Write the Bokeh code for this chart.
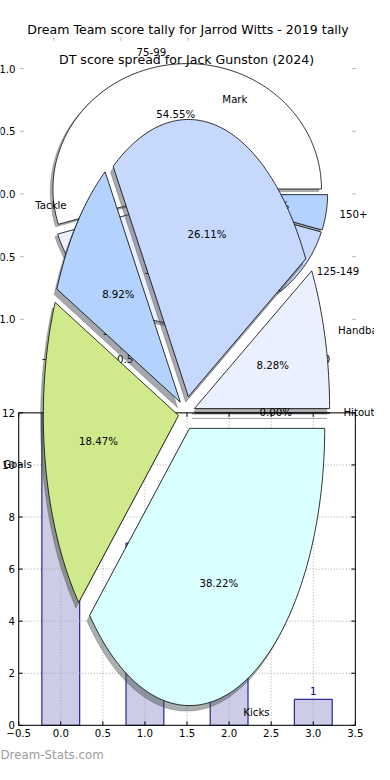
import numpy as np
from bokeh.plotting import figure
from bokeh.models import Range1d
from bokeh.embed import file_html
from bokeh.resources import INLINE
from bokeh.core.properties import value

# ---------------- data ----------------
tally_title = "Dream Team score tally for Jarrod Witts - 2019 tally"
tally_x = [0, 1, 2, 3]
tally_values = [12, 7, 3, 1]
tally_xlim = [-0.5, 3.5]
tally_ylim = [0, 12]
tally_xticks = [-0.5, 0.0, 0.5, 1.0, 1.5, 2.0, 2.5, 3.0, 3.5]
tally_xtick_labels = ["\u22120.5", "0.0", "0.5", "1.0", "1.5", "2.0", "2.5", "3.0", "3.5"]
tally_yticks = [0, 2, 4, 6, 8, 10, 12]
tally_ytick_labels = ["0", "2", "4", "6", "8", "10", "12"]

spread_title = "DT score spread for Jack Gunston (2024)"
spread_labels = ["75-99", "100-124", "125-149", "150+"]
spread_games = [12, 7, 2, 1]
spread_colors = ["#ffffff", "#ebf0fe", "#c6d8fd", "#b3d3fe"]
spread_lim = [-1.25, 1.25]
spread_yticks = [1.0, 0.5, 0.0, -0.5, -1.0]
spread_ytick_labels = ["1.0", "0.5", "0.0", "\u22120.5", "\u22121.0"]
spread_xticks = [-1.0, -0.5, 0.0, 0.5, 1.0]
spread_xtick_labels = ["\u22121.0", "\u22120.5", "0.0", "0.5", "1.0"]
spread_top_xticks = [-1.0, -0.5, 0.0]

stat_labels = ["Handball", "Mark", "Tackle", "Goals", "Kicks", "Hitout"]
stat_percent = [8.28, 26.11, 8.92, 18.47, 38.22, 0.00]
stat_colors = ["#ebf0fe", "#c6d8fd", "#b3d3fe", "#d0ea8b", "#d9fffe", "#ffffff"]

watermark = "Dream-Stats.com"

# ---------------- layout ----------------
REF_W, REF_H = 390, 780
W, H = 374, 764
FS = 1.02

# (data value a, ref pixel of a, data value b, ref pixel of b)
TALLY_X = (-0.5, 19.0, 3.5, 370.0)
TALLY_Y = (0.0, 740.0, 12.0, 421.0)
SPREAD_X = (0.0, 195.5, 1.0, 335.5)
SPREAD_Y = (0.0, 197.5, 1.0, 69.5)
STAT_X = (0.0, 194.0, 1.0, 335.0)
STAT_Y = (0.0, 421.0, 1.0, 138.0)


def per_px(anchor):
    a, pa, b, pb = anchor
    return (b - a) / (pb - pa)


def at_px(anchor, px):
    a, pa, b, pb = anchor
    return a + (px - pa) * per_px(anchor)


def px_len(anchor, n):
    return n * abs(per_px(anchor))


def make_xr(anchor):
    return Range1d(start=at_px(anchor, 0), end=at_px(anchor, REF_W))


def make_yr(anchor):
    return Range1d(start=at_px(anchor, REF_H), end=at_px(anchor, 0))


p = figure(width=W, height=H, x_range=make_xr(TALLY_X), y_range=make_yr(TALLY_Y),
           x_axis_location=None, y_axis_location=None, toolbar_location=None,
           output_backend="svg", min_border=0)
p.grid.visible = False
p.outline_line_color = None
p.background_fill_color = "white"
p.border_fill_color = "white"
p.extra_x_ranges = {"sx": make_xr(SPREAD_X), "kx": make_xr(STAT_X)}
p.extra_y_ranges = {"sy": make_yr(SPREAD_Y), "ky": make_yr(STAT_Y)}

FONT = value("DejaVu Sans")


def names(xr, yr):
    kw = {}
    if xr:
        kw["x_range_name"] = xr
    if yr:
        kw["y_range_name"] = yr
    return kw


def txt(x, y, t, xr=None, yr=None, align="center", size=10.0, color="black"):
    p.text(x=list(x), y=list(y), text=list(t), text_align=align, text_baseline="middle",
           text_font=FONT, text_font_size=f"{size * FS:.2f}px", text_color=color,
           **names(xr, yr))


def ticks(x, y, angle, xr=None, yr=None, color="black", length=4):
    p.ray(x=list(x), y=list(y), length=length, angle=angle, length_units="screen",
          line_color=color, line_width=1, **names(xr, yr))


def shade(c):
    c = c.lstrip("#")
    r, g, b = (int(c[i:i + 2], 16) for i in (0, 2, 4))
    return "#%02x%02x%02x" % (int(r * 0.3), int(g * 0.3), int(b * 0.3))


def pie(values, labels, colors, explode, xr, yr):
    vals = np.asarray(values, dtype=float)
    fracs = vals / vals.sum()
    wx, wy, lab_pos, pct_pos = [], [], [], []
    t1 = 0.0
    for f in fracs:
        t2 = t1 + f
        thm = np.pi * (t1 + t2)
        cx, cy = explode * np.cos(thm), explode * np.sin(thm)
        th = np.linspace(2 * np.pi * t1, 2 * np.pi * t2, max(3, int(f * 400) + 3))
        wx.append(np.concatenate([[cx], cx + np.cos(th), [cx]]))
        wy.append(np.concatenate([[cy], cy + np.sin(th), [cy]]))
        lab_pos.append((cx + 1.1 * np.cos(thm), cy + 1.1 * np.sin(thm)))
        pct_pos.append((cx + 0.6 * np.cos(thm), cy + 0.6 * np.sin(thm)))
        t1 = t2
    # shadows
    sh = [shade(c) for c in colors]
    p.patches(xs=[list(x - 0.02) for x in wx], ys=[list(y - 0.02) for y in wy],
              fill_color=sh, fill_alpha=0.45, line_color=sh, line_alpha=0.3,
              line_width=1, **names(xr, yr))
    p.patches(xs=[list(x) for x in wx], ys=[list(y) for y in wy],
              fill_color=list(colors), line_color="black", line_width=0.8,
              **names(xr, yr))
    for side in ("left", "right"):
        sel = [i for i, (x, y) in enumerate(lab_pos) if (x > 0) == (side == "left")]
        if sel:
            txt([lab_pos[i][0] for i in sel], [lab_pos[i][1] for i in sel],
                [labels[i] for i in sel], xr, yr, align=side)
    txt([q[0] for q in pct_pos], [q[1] for q in pct_pos],
        ["%1.2f%%" % (100 * f) for f in fracs], xr, yr)


# ---- score-spread axes (ticks and labels) ----
grey = "#b4b4b4"
ticks([spread_lim[0]] * len(spread_yticks), spread_yticks, 0.0, "sx", "sy", grey, 3.5)
ticks([spread_lim[1]] * len(spread_yticks), spread_yticks, np.pi, "sx", "sy", grey, 3.5)
ticks(spread_top_xticks, [spread_lim[1]] * len(spread_top_xticks), -np.pi / 2, "sx", "sy", grey, 3.5)
ticks(spread_xticks, [spread_lim[0]] * len(spread_xticks), np.pi / 2, "sx", "sy", grey, 3.5)
txt([spread_lim[0] - px_len(SPREAD_X, 5)] * len(spread_yticks), spread_yticks,
    spread_ytick_labels, "sx", "sy", align="right")
txt(spread_xticks, [spread_lim[0] - px_len(SPREAD_Y, 8)] * len(spread_xticks),
    spread_xtick_labels, "sx", "sy")

# ---- score-spread pie ----
pie(spread_games, spread_labels, spread_colors, 0.04, "sx", "sy")

# ---- tally bar chart ----
p.vbar(x=tally_x, top=tally_values, bottom=0, width=0.45, fill_color="navy",
       fill_alpha=0.2, line_color="navy", line_width=1)
p.segment(x0=tally_xticks, x1=tally_xticks, y0=[tally_ylim[0]] * len(tally_xticks),
          y1=[tally_ylim[1]] * len(tally_xticks), line_color="#a8a8a8",
          line_dash="1 2", line_width=1)
p.segment(x0=[tally_xlim[0]] * len(tally_yticks), x1=[tally_xlim[1]] * len(tally_yticks),
          y0=tally_yticks, y1=tally_yticks, line_color="#a8a8a8",
          line_dash="1 2", line_width=1)
p.quad(left=[tally_xlim[0]], right=[tally_xlim[1]], bottom=[tally_ylim[0]],
       top=[tally_ylim[1]], fill_alpha=0, line_color="black", line_width=1)
ticks(tally_xticks, [tally_ylim[0]] * len(tally_xticks), np.pi / 2)
ticks(tally_xticks, [tally_ylim[1]] * len(tally_xticks), -np.pi / 2)
ticks([tally_xlim[0]] * len(tally_yticks), tally_yticks, 0.0)
ticks([tally_xlim[1]] * len(tally_yticks), tally_yticks, np.pi)
txt([tally_xlim[0] - px_len(TALLY_X, 4)] * len(tally_yticks), tally_yticks,
    tally_ytick_labels, align="right")
txt(tally_xticks, [tally_ylim[0] - px_len(TALLY_Y, 8)] * len(tally_xticks),
    tally_xtick_labels)
txt(tally_x, [v + px_len(TALLY_Y, 8) for v in tally_values],
    [str(v) for v in tally_values], color="navy")

# ---- player stats pie ----
pie(stat_percent, stat_labels, stat_colors, 0.06, "kx", "ky")

# ---- titles ----
txt([0.0], [spread_lim[1] + px_len(SPREAD_Y, 7.5)], [tally_title], "sx", "sy", size=12.3)
txt([0.0], [1.25 + px_len(STAT_Y, 7)], [spread_title], "kx", "ky", size=12.3)

# ---- watermark ----
txt([at_px(TALLY_X, 0)], [at_px(TALLY_Y, 770)], [watermark], align="left",
    size=11.6, color="#9c9c9c")

open("out.html", "w").write(file_html(p, INLINE))
